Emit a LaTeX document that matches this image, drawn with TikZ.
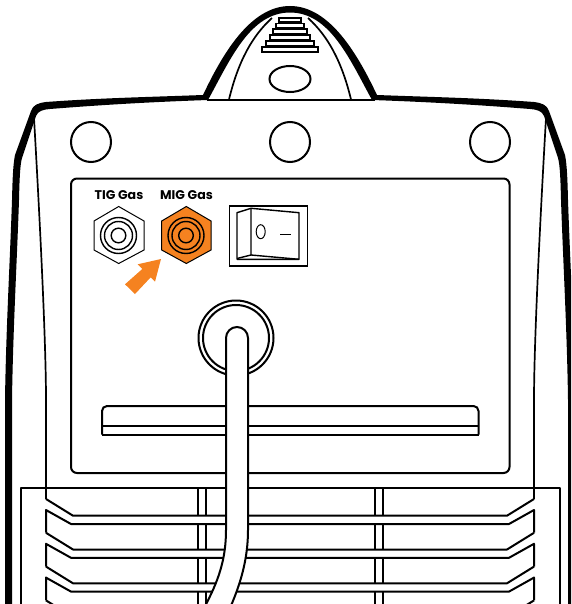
\documentclass[tikz,border=0pt]{standalone}
\usepackage{fontspec}
\setmainfont{Poppins}
\definecolor{accent}{HTML}{F58220}
\tikzset{
  thin line/.style={draw=black,line width=1.7pt,line join=round},
  med line/.style={draw=black,line width=2pt,line join=miter},
  label text/.style={font=\fontsize{12.6}{14}\selectfont\bfseries,inner sep=0pt,text=black},
}
\begin{document}
\begin{tikzpicture}[x=1pt,y=-1pt]
\useasboundingbox (0,0) rectangle (571,604);
\clip (0,0) rectangle (571,604);
% body outline (variable thickness)
\fill[black] (5,606) -- (5,400) .. controls (6,330) and (10,260) .. (12,200) .. controls (12.5,180) and (13,165) .. (15,155) -- (31,111) .. controls (33,105) and (38,103) .. (46,102) .. controls (100,98) and (150,97) .. (203,95)
 .. controls (222,55) and (250,6) .. (290,6) .. controls (330,6) and (358,55) .. (377,95)
 .. controls (430,97) and (480,98) .. (534,102) .. controls (542,103) and (547,105) .. (549,111) -- (565,155) .. controls (567,165) and (567.5,180) .. (568,200) .. controls (570,260) and (574,330) .. (575,400) -- (575,606)
 -- (568,606) -- (568,400) .. controls (567,330) and (563,260) .. (561,200) .. controls (560.5,180) and (560,165) .. (558,158) -- (544,116) .. controls (542,111) and (537,109.5) .. (530,109) .. controls (480,105) and (430,102) .. (372,100)
 .. controls (350,60) and (330,12.5) .. (290,12.5) .. controls (250,12.5) and (230,60) .. (208,100)
 .. controls (150,102) and (100,105) .. (50,109) .. controls (43,109.5) and (38,111) .. (36,116) -- (22,158) .. controls (20,165) and (19.5,180) .. (19,200) .. controls (17,260) and (13,330) .. (12,400) -- (12,606) -- cycle;
% handle
\draw[thin line] (207,100) -- (375,100);
\draw[thin line] (229,99.5) .. controls (238,62) and (252,36) .. (272,18);
\draw[thin line] (351,99.5) .. controls (342,62) and (328,36) .. (308,18);
\foreach \xa/\xb/\ya/\yb in {279/301/18/22,276/304/23.5/27.5,273/307/29/34,270/310/35/40,266/314/41/46,262/318/47/52}
  \draw[black,line width=1.5pt] (\xa,\ya) rectangle (\xb,\yb);
\draw[med line] (290,79) ellipse [x radius=20.5,y radius=13];
% side lines
\draw[thin line] (34,118) .. controls (37,170) and (46,330) .. (46,400) -- (46,499);
\draw[thin line] (546,118) .. controls (543,170) and (534,330) .. (534,400) -- (534,499);
% screw holes
\draw[med line] (91,142) circle [radius=20];
\draw[med line] (290,142) circle [radius=20];
\draw[med line] (490,142) circle [radius=20];
% panel
\draw[med line,rounded corners=6pt] (71,178.5) rectangle (509.5,473);
% labels
\node[label text] (tig) at (119,195) {TIG Gas};
\node[label text] (mig) at (186.5,195) {MIG Gas};
% fittings
\draw[black,line width=1pt] (118.7,206.5) -- (144,221) -- (144,250) -- (118.7,263.5) -- (94,250) -- (94,221) -- cycle;
\draw[black,line width=1.4pt] (118.5,235.5) circle [radius=18];
\draw[black,line width=1.4pt] (118.5,235.5) circle [radius=14];
\draw[black,line width=1.4pt] (118.5,235.5) circle [radius=7.3];
\draw[black,line width=1pt,fill=accent] (186.3,206.5) -- (211,221) -- (211,250) -- (186.3,263.5) -- (161.7,250) -- (161.7,221) -- cycle;
\draw[black,line width=1.4pt] (186,235.5) circle [radius=18];
\draw[black,line width=1.4pt] (186,235.5) circle [radius=14];
\draw[black,line width=1.4pt] (186,235.5) circle [radius=7.3];
% arrow
\fill[accent] (161,259) -- (137.7,264.3) -- (142.3,269) -- (125,284.3) -- (135,294) -- (150.7,277.3) -- (155,281.7) -- cycle;
% switch
\draw[black,line width=1.2pt] (229.3,206) rectangle (307.3,266);
\draw[black,line width=1.4pt,line join=round] (237,212.7) -- (251,208.3) -- (299,212.7) -- (299,259.3) -- (237,259.3) -- cycle;
\draw[black,line width=1.4pt] (251,208.3) -- (251,255) -- (299,259.3);
\draw[black,line width=1.4pt] (251,255) -- (237,258.5);
\draw[black,line width=1pt] (260.7,231.7) ellipse [x radius=4.5,y radius=7];
\draw[black,line width=1pt] (280,234) -- (291,234);
% slot
\draw[med line,rounded corners=5pt] (102,434.5) -- (102,406) -- (478.5,406) -- (478.5,434.5);
\draw[med line] (102,434.5) -- (478.5,434.5);
\draw[med line] (102,426) -- (478.5,426);
% grille
\draw[thin line] (21,606) -- (21,488) -- (560,488) -- (560,606);
\foreach \k in {0,1,2,3} {
  \pgfmathsetmacro{\d}{33.8*\k}
  \draw[med line,line join=round] (46,499+\d) -- (73,515.7+\d) -- (507,515.7+\d) -- (534,499+\d);
  \draw[med line,line join=round] (46,532.7+\d) -- (46,510+\d) -- (71,524+\d) -- (509,524+\d) -- (534,510+\d) -- (534,532.7+\d);
}
\foreach \xv in {198,206,374.5,383} {
  \foreach \ya/\yb in {488/515.7,524/549.5,557.8/583.3,591.6/606} {
    \draw[black,line width=2pt] (\xv,\ya) -- (\xv,\yb);
  }
}
% grommet
\draw[med line] (236,338) circle [radius=37.5];
\draw[med line] (236,338) circle [radius=33];
% cable
\filldraw[fill=white,draw=black,line width=2pt] (204,608) .. controls (218,582) and (226,560) .. (226,530) -- (226,338) arc [start angle=180,end angle=0,x radius=11,y radius=-11] -- (248,530) .. controls (248,560) and (240,585) .. (230,608) -- cycle;
\end{tikzpicture}
\end{document}
